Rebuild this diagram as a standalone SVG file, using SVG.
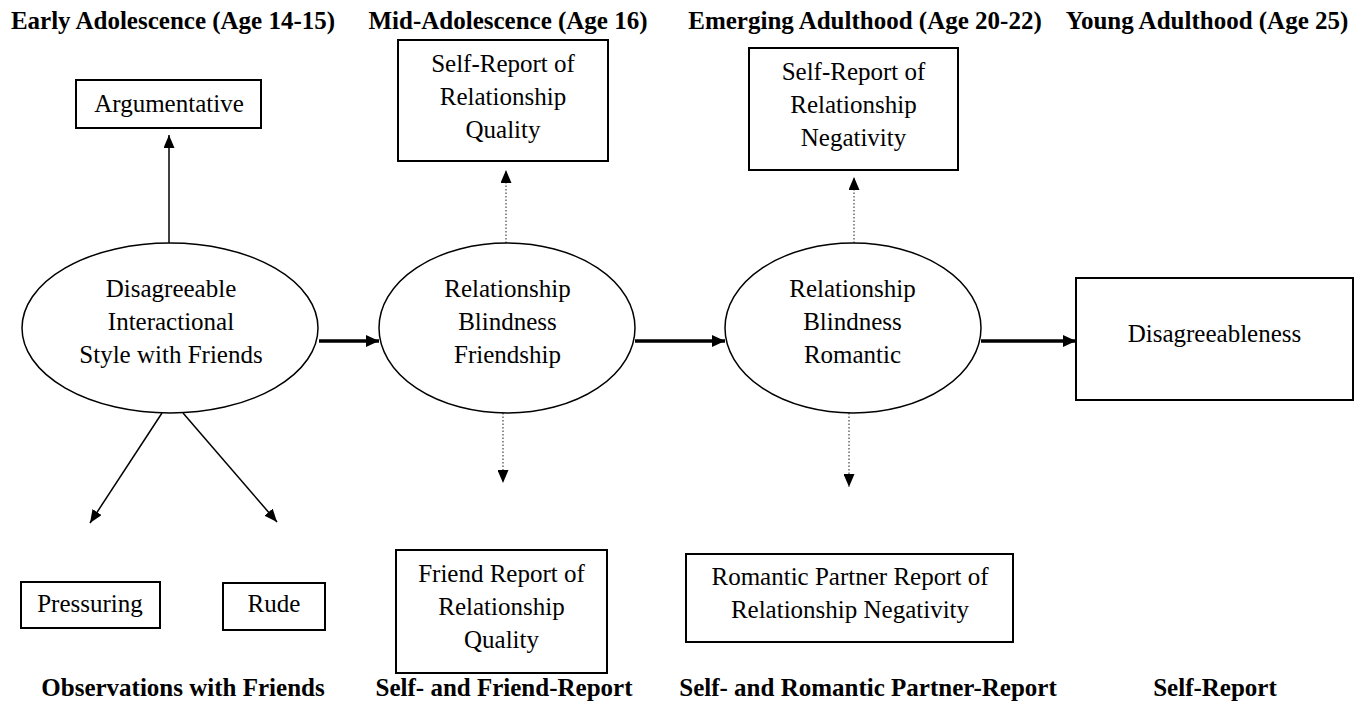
<svg xmlns="http://www.w3.org/2000/svg" width="1368" height="702" viewBox="0 0 1368 702">
<style>
text{font-family:"Liberation Serif","Times New Roman",serif;font-size:25px;fill:#000;text-anchor:middle}
.h{font-weight:bold}
.box{fill:#fff;stroke:#000;stroke-width:2}
.ell{fill:#fff;stroke:#000;stroke-width:1.5}
.thin{stroke:#000;stroke-width:1.5;fill:none}
.dot{stroke:#444;stroke-width:1.2;stroke-dasharray:1.5,2;fill:none}
.thick{stroke:#000;stroke-width:3.5;fill:none}
</style>
<defs>
<marker id="ah" markerUnits="userSpaceOnUse" markerWidth="13" markerHeight="11" refX="13" refY="5.5" orient="auto">
<path d="M0,0 L13,5.5 L0,11 z" fill="#000"/>
</marker>
<marker id="ahb" markerUnits="userSpaceOnUse" markerWidth="13" markerHeight="12" refX="13" refY="6" orient="auto">
<path d="M0,0 L13,6 L0,12 z" fill="#000"/>
</marker>
</defs>
<rect width="1368" height="702" fill="#fff"/>
<g id="headers">
<text class="h" x="173" y="29">Early Adolescence (Age 14-15)</text>
<text class="h" x="508" y="29">Mid-Adolescence (Age 16)</text>
<text class="h" x="865" y="29">Emerging Adulthood (Age 20-22)</text>
<text class="h" x="1207" y="29">Young Adulthood (Age 25)</text>
</g>
<g id="footers">
<text class="h" x="183" y="696">Observations with Friends</text>
<text class="h" x="504" y="696">Self- and Friend-Report</text>
<text class="h" x="868" y="696">Self- and Romantic Partner-Report</text>
<text class="h" x="1215" y="696">Self-Report</text>
</g>
<g id="connectors">
<line class="thin" x1="169" y1="243" x2="169" y2="135" marker-end="url(#ah)"/>
<line class="dot" x1="506" y1="243" x2="506" y2="170" marker-end="url(#ah)"/>
<line class="dot" x1="854" y1="243" x2="854" y2="177" marker-end="url(#ah)"/>
<line class="dot" x1="503" y1="413" x2="503" y2="483" marker-end="url(#ah)"/>
<line class="dot" x1="849" y1="413" x2="849" y2="487" marker-end="url(#ah)"/>
<line class="thin" x1="162" y1="413" x2="90" y2="523" marker-end="url(#ah)"/>
<line class="thin" x1="183" y1="413" x2="277" y2="522" marker-end="url(#ah)"/>
<line class="thick" x1="319" y1="341" x2="379" y2="341" marker-end="url(#ahb)"/>
<line class="thick" x1="635" y1="341" x2="725" y2="341" marker-end="url(#ahb)"/>
<line class="thick" x1="981" y1="341" x2="1076" y2="341" marker-end="url(#ahb)"/>
</g>
<g id="argumentative">
<rect class="box" x="76" y="80" width="185" height="48"/>
<text x="169" y="112">Argumentative</text>
</g>
<g id="self-quality">
<rect class="box" x="398" y="40" width="210" height="121"/>
<text x="503" y="72">Self-Report of</text>
<text x="503" y="105">Relationship</text>
<text x="503" y="138">Quality</text>
</g>
<g id="self-negativity">
<rect class="box" x="749" y="48" width="209" height="122"/>
<text x="853.5" y="80">Self-Report of</text>
<text x="853.5" y="113">Relationship</text>
<text x="853.5" y="146">Negativity</text>
</g>
<g id="disagreeable-style">
<ellipse class="ell" cx="170" cy="328" rx="148" ry="85"/>
<text x="171" y="297">Disagreeable</text>
<text x="171" y="330">Interactional</text>
<text x="171" y="363">Style with Friends</text>
</g>
<g id="blindness-friendship">
<ellipse class="ell" cx="507" cy="328" rx="128" ry="85"/>
<text x="507.5" y="297">Relationship</text>
<text x="507.5" y="330">Blindness</text>
<text x="507.5" y="363">Friendship</text>
</g>
<g id="blindness-romantic">
<ellipse class="ell" cx="853" cy="328" rx="128" ry="85"/>
<text x="852.5" y="297">Relationship</text>
<text x="852.5" y="330">Blindness</text>
<text x="852.5" y="363">Romantic</text>
</g>
<g id="disagreeableness">
<rect class="box" x="1076" y="278" width="277" height="122"/>
<text x="1214.5" y="342">Disagreeableness</text>
</g>
<g id="pressuring">
<rect class="box" x="21" y="582" width="139" height="46"/>
<text x="90" y="612">Pressuring</text>
</g>
<g id="rude">
<rect class="box" x="223" y="583" width="102" height="47"/>
<text x="274" y="612">Rude</text>
</g>
<g id="friend-quality">
<rect class="box" x="396" y="550" width="211" height="123"/>
<text x="501.5" y="582">Friend Report of</text>
<text x="501.5" y="615">Relationship</text>
<text x="501.5" y="648">Quality</text>
</g>
<g id="partner-negativity">
<rect class="box" x="686" y="554" width="327" height="88"/>
<text x="850" y="585">Romantic Partner Report of</text>
<text x="850" y="618">Relationship Negativity</text>
</g>
</svg>
